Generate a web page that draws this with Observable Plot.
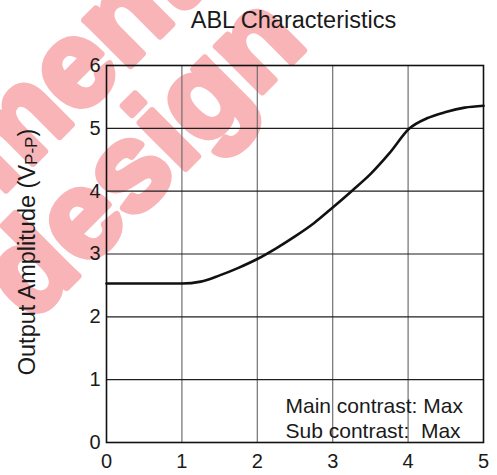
<!DOCTYPE html>
<html><head><meta charset="utf-8">
<script src="https://cdn.jsdelivr.net/npm/d3@7"></script>
<script src="https://cdn.jsdelivr.net/npm/@observablehq/plot@0.6"></script>
<style>
body{margin:0;background:#fff}
svg{font-family:"Liberation Sans",Arial,sans-serif}
</style>
</head><body><div id="chart"></div>
<script>
// Data
const xValues = [0, 1, 1.25, 1.5, 1.75, 2, 2.25, 2.5, 2.75, 3, 3.25, 3.5, 3.75, 4.02, 4.25, 4.5, 4.75, 5];
const yValues = [2.53, 2.53, 2.56, 2.66, 2.78, 2.92, 3.09, 3.28, 3.49, 3.74, 4.0, 4.27, 4.6, 5.0, 5.16, 5.26, 5.33, 5.36];
const xTicks = [0, 1, 2, 3, 4, 5];
const yTicks = [0, 1, 2, 3, 4, 5, 6];
const xGrid = [1, 2, 3, 4];
const yGrid = [1, 2, 3, 4, 5];
const titleText = "ABL Characteristics";
const yLabelMain = "Output Amplitude (V";
const yLabelSub = "P-P";
const yLabelEnd = ")";
const notes = ["Main contrast: Max", "Sub contrast:  Max"];
const watermark = ["document", "design"];

const data = xValues.map((x, i) => ({x, y: yValues[i]}));

const chart = Plot.plot({
  width: 497,
  height: 475,
  marginLeft: 106,
  marginRight: 14,
  marginTop: 65,
  marginBottom: 33,
  style: {fontFamily: '"Liberation Sans", Arial, sans-serif', fontSize: "20px", color: "#1a1a1a", background: "white"},
  x: {domain: [0, 5]},
  y: {domain: [0, 6]},
  marks: [
    Plot.gridX(xGrid, {stroke: "#707070", strokeOpacity: 1, strokeWidth: 1.2}),
    Plot.gridY(yGrid, {stroke: "#1f1f1f", strokeOpacity: 1, strokeWidth: 1.2}),
    Plot.frame({stroke: "#111", strokeWidth: 1.6}),
    Plot.axisX(xTicks, {tickSize: 0, tickPadding: 11, fontSize: 20, label: null, tickFormat: d3.format("d")}),
    Plot.axisY(yTicks, {tickSize: 0, tickPadding: 6, fontSize: 20, label: null, tickFormat: d3.format("d")}),
    Plot.line(data, {x: "x", y: "y", curve: "monotone-x", stroke: "#111", strokeWidth: 2.6}),
    Plot.text([notes.join("\n")], {text: d => d, frameAnchor: "bottom-left", dx: 179, dy: -5, textAnchor: "start", lineAnchor: "bottom", fontSize: 21, lineHeight: 1.19, fill: "#1a1a1a"})
  ]
});

const svg = d3.select(chart);
svg.selectAll("text").style("white-space", "pre");

// watermark behind everything
const wm = svg.insert("g", ":first-child");
const wmStyle = t => t
  .style("font-family", '"Liberation Sans", Arial, sans-serif')
  .style("font-weight", "bold")
  .style("font-size", "122px")
  .style("fill", "#f8b4b6")
  .style("stroke", "#f8b4b6")
  .style("stroke-width", "7px")
  .style("stroke-linejoin", "round");
wmStyle(wm.append("text").attr("text-anchor", "end")
  .attr("transform", "translate(206,-10) rotate(-45)").text(watermark[0]));
wmStyle(wm.append("text").attr("text-anchor", "middle")
  .attr("transform", "translate(170,184) rotate(-45)").text(watermark[1]));

// title
svg.append("text").attr("x", 293.5).attr("y", 28).attr("text-anchor", "middle")
  .attr("font-size", 23.5).attr("fill", "#1a1a1a").text(titleText);

// y label with subscript
const yl = svg.append("text").attr("text-anchor", "middle")
  .attr("transform", "translate(35,252) rotate(-90)")
  .attr("font-size", 23.5).attr("fill", "#1a1a1a");
yl.append("tspan").text(yLabelMain);
yl.append("tspan").attr("font-size", 17).attr("dy", 2).text(yLabelSub);
yl.append("tspan").attr("dy", -2).text(yLabelEnd);

document.getElementById("chart").appendChild(chart);
</script>
</body></html>
